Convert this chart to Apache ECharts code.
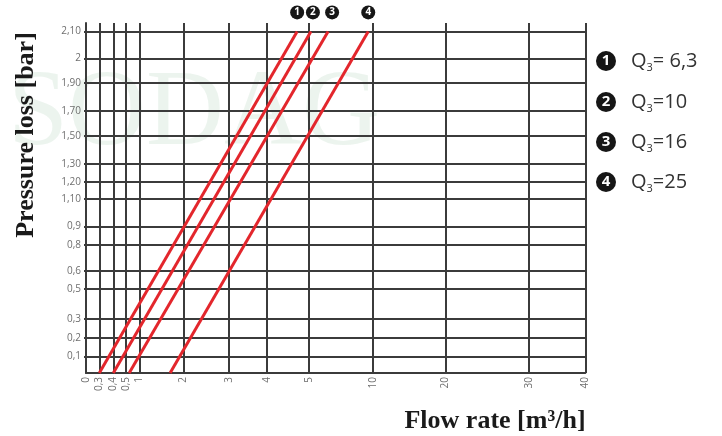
<!DOCTYPE html>
<html><head><meta charset="utf-8">
<script src="https://cdn.jsdelivr.net/npm/echarts@6/dist/echarts.min.js"></script>
<style>html,body{margin:0;padding:0;background:#fff}#c{width:722px;height:436px}</style>
</head><body><div id="c"></div>
<script>
// ---- data ----
const xTicks = [0, 0.3, 0.4, 0.5, 1, 2, 3, 4, 5, 10, 20, 30, 40];
const xTickLabels = ['0', '0,3', '0,4', '0,5', '1', '2', '3', '4', '5', '10', '20', '30', '40'];
const yTicks = [0, 0.1, 0.2, 0.3, 0.5, 0.6, 0.8, 0.9, 1.1, 1.2, 1.3, 1.5, 1.7, 1.9, 2, 2.1];
const yTickLabels = ['0', '0,1', '0,2', '0,3', '0,5', '0,6', '0,8', '0,9', '1,10', '1,20', '1,30', '1,50', '1,70', '1,90', '2', '2,10'];
const seriesNumbers = ['1', '2', '3', '4'];
const q3Values = ['= 6,3', '=10', '=16', '=25'];
const flowAtZeroBar = [0.3, 0.4, 0.62, 1.7];   // m3/h at 0 bar
const flowAtTopBar = [4.72, 5.15, 6.5, 9.65];   // m3/h at 2,10 bar
const pressureEnds = [0, 2.1];

// ---- non-uniform scale of the printed chart (axis layout) ----
const X_SCALE = [0, 13.3, 27.3, 40, 53.3, 97.3, 143, 180.7, 223, 286.7, 359.3, 442.7, 499.3];
const Y_SCALE = [0, 16.6, 35, 54.3, 84, 102.3, 128.3, 146.6, 174, 191.3, 209.3, 237.3, 262.3, 290, 314.6, 341.6];
const X_MAX = 499.3, Y_MAX = 350;
function mapScale(v, ticks, knots) {
  for (let i = 1; i < ticks.length; i++) {
    if (v <= ticks[i]) {
      const t = (v - ticks[i - 1]) / (ticks[i] - ticks[i - 1]);
      return knots[i - 1] + t * (knots[i] - knots[i - 1]);
    }
  }
  return knots[knots.length - 1];
}
const mx = v => mapScale(v, xTicks, X_SCALE);
const my = v => mapScale(v, yTicks, Y_SCALE);
function lookup(v, knots, labels) {
  for (let i = 0; i < knots.length; i++) if (Math.abs(knots[i] - v) < 0.01) return labels[i];
  return '';
}

const GRID = '#3b3b3b';
const RED = '#e3262c';
const badgeDx = [0, 2, 4, 0];

const series = seriesNumbers.map((n, i) => ({
  type: 'line',
  name: 'Q3' + q3Values[i],
  data: [[mx(flowAtZeroBar[i]), my(pressureEnds[0])], [mx(flowAtTopBar[i]), my(pressureEnds[1])]],
  symbol: 'none',
  lineStyle: { color: RED, width: 3 },
  z: 5,
  markPoint: {
    symbol: 'circle', symbolSize: 14,
    itemStyle: { color: '#161616' },
    label: { show: true, position: 'inside', color: '#fff', fontSize: 10, fontWeight: 'bold', fontFamily: 'Open Sans', formatter: n },
    data: [{ coord: [mx(flowAtTopBar[i]), my(pressureEnds[1])], symbolOffset: [badgeDx[i], -19] }]
  }
}));

const legendGraphics = seriesNumbers.map((n, i) => ({
  type: 'text', left: 596, top: [51, 92, 132, 172][i],
  style: {
    text: `{c|${n}}{g| }{q|Q}{s|3}{q|${q3Values[i]}}`,
    rich: {
      c: { backgroundColor: '#161616', borderRadius: 10, width: 20, height: 20, lineHeight: 20, align: 'center', fill: '#fff', fontSize: 15, fontWeight: 'bold', fontFamily: 'Open Sans' },
      g: { width: 15, fontSize: 10 },
      q: { fontSize: 20, fill: '#333', fontFamily: 'Open Sans', lineHeight: 24 },
      s: { fontSize: 11, fill: '#333', fontFamily: 'Open Sans', verticalAlign: 'bottom', padding: [12, 0, 0, 0] }
    }
  }
}));

const chart = echarts.init(document.getElementById('c'));
chart.setOption({
  backgroundColor: '#fff',
  animation: false,
  grid: { left: 86, top: 23, width: X_MAX, height: Y_MAX, containLabel: false },
  xAxis: {
    type: 'value', min: 0, max: X_MAX,
    axisLine: { show: true, lineStyle: { color: GRID, width: 2 } },
    axisTick: { show: false, customValues: X_SCALE },
    splitLine: { show: true, lineStyle: { color: GRID, width: 2 } },
    axisLabel: {
      customValues: X_SCALE, rotate: 90, margin: 4, fontSize: 10, color: '#6f6f6f', fontFamily: 'Open Sans',
      formatter: v => lookup(v, X_SCALE, xTickLabels)
    }
  },
  yAxis: {
    type: 'value', min: 0, max: Y_MAX,
    axisLine: { show: true, lineStyle: { color: GRID, width: 2 } },
    axisTick: { show: true, length: 2, customValues: Y_SCALE.slice(1), lineStyle: { color: GRID, width: 2 } },
    splitLine: { show: true, lineStyle: { color: GRID, width: 2 } },
    axisLabel: {
      customValues: Y_SCALE.slice(1), margin: 5, fontSize: 10, color: '#6f6f6f', fontFamily: 'Open Sans',
      formatter: v => lookup(v, Y_SCALE, yTickLabels)
    }
  },
  graphic: [
    { type: 'text', z: -10, silent: true, left: 8, top: 62,
      style: { text: 'SODAG', font: '108px "Liberation Serif"', fill: 'rgba(150,195,160,0.18)' } },
    { type: 'text', x: 26, y: 135, rotation: Math.PI / 2,
      style: { text: 'Pressure loss [bar]', font: 'bold 26px "Liberation Serif"', fill: '#1a1a1a', textAlign: 'center', textVerticalAlign: 'middle' } },
    { type: 'text', x: 495, y: 421,
      style: { text: 'Flow rate [m³/h]', font: 'bold 26px "Liberation Serif"', fill: '#1a1a1a', textAlign: 'center', textVerticalAlign: 'middle' } },
    ...legendGraphics
  ],
  series
});
</script></body></html>
